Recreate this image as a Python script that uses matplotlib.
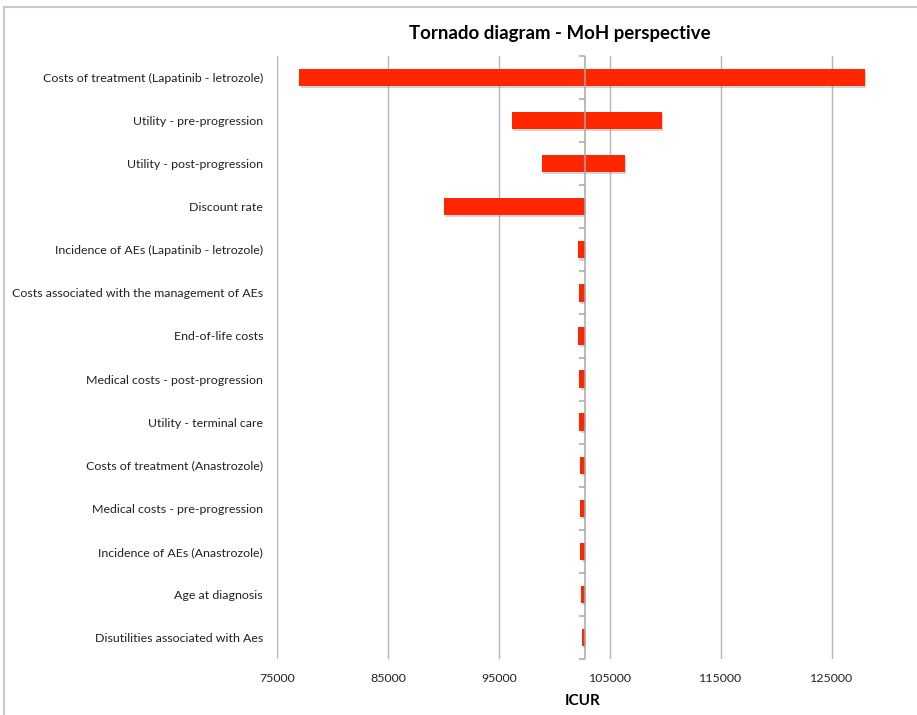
import matplotlib
matplotlib.use("Agg")
import matplotlib.pyplot as plt
import matplotlib.patheffects as pe
from matplotlib.patches import Rectangle
import numpy as np

plt.rcParams['font.family'] = ['Lato', 'DejaVu Sans']

# one-way sensitivity results (ICUR), base case in the middle
base = 102750
params = [
    "Costs of treatment (Lapatinib - letrozole)",
    "Utility - pre-progression",
    "Utility - post-progression",
    "Discount rate",
    "Incidence of AEs (Lapatinib - letrozole)",
    "Costs associated with the management of AEs",
    "End-of-life costs",
    "Medical costs - post-progression",
    "Utility - terminal care",
    "Costs of treatment (Anastrozole)",
    "Medical costs - pre-progression",
    "Incidence of AEs (Anastrozole)",
    "Age at diagnosis",
    "Disutilities associated with Aes",
]
low = [77000, 96160, 98870, 90060, 102100, 102190, 102160, 102220,
       102250, 102330, 102340, 102340, 102390, 102450]
high = [127970, 109640, 106360, 102750, 102750, 102750, 102750, 102750,
        102750, 102750, 102750, 102750, 102750, 102750]
xticks = [75000, 85000, 95000, 105000, 115000, 125000]

fig = plt.figure(figsize=(9.17, 7.15), dpi=100)
ax = fig.add_axes([277 / 917, 56 / 715, 610.5 / 917, 603 / 715])

y = np.arange(len(params))
bars = ax.barh(y, np.array(high) - np.array(low), left=low, height=0.4,
               color='#ff2600', zorder=3)
for b in bars:
    b.set_path_effects([pe.SimplePatchShadow(offset=(1, -1.5), shadow_rgbFace='#777777', alpha=0.3),
                        pe.Normal()])

# vertical axis crossing at the base case, ticks between categories
ax.axvline(base, color='#a8a8a8', lw=1.1, zorder=4)
bounds = np.arange(len(params) + 1) - 0.5
ax.plot([base] * len(bounds), bounds, linestyle='none', marker=0,
        markersize=4, color='#a8a8a8', markeredgewidth=1.1, zorder=4, clip_on=False)

ax.set_xlim(75000, 130000)
ax.set_ylim(len(params) - 0.5, -0.5)
ax.set_xticks(xticks)
ax.set_xticklabels([str(t) for t in xticks], fontsize=8.9, color='#222222')
ax.set_yticks(y)
ax.set_yticklabels(params, fontsize=8.9, color='#222222')
ax.tick_params(axis='x', length=0, pad=10)
ax.tick_params(axis='y', length=0, pad=10)
ax.xaxis.grid(True, color='#b5b5b5', lw=1.0, zorder=0)
ax.set_axisbelow(True)
for s in ax.spines.values():
    s.set_visible(False)

ax.set_xlabel('ICUR', fontsize=11, fontweight='bold', labelpad=7)
fig.text(560 / 917, 1 - 33 / 715, 'Tornado diagram - MoH perspective',
         ha='center', va='center', fontsize=13.4, fontweight='bold')

# chart frame
fig.add_artist(Rectangle((4 / 917, -0.1), 2, 1.1 - 7 / 715, transform=fig.transFigure,
                         fill=False, edgecolor='#c8c8c8', lw=1.5))

fig.savefig('out.png', dpi=100)
